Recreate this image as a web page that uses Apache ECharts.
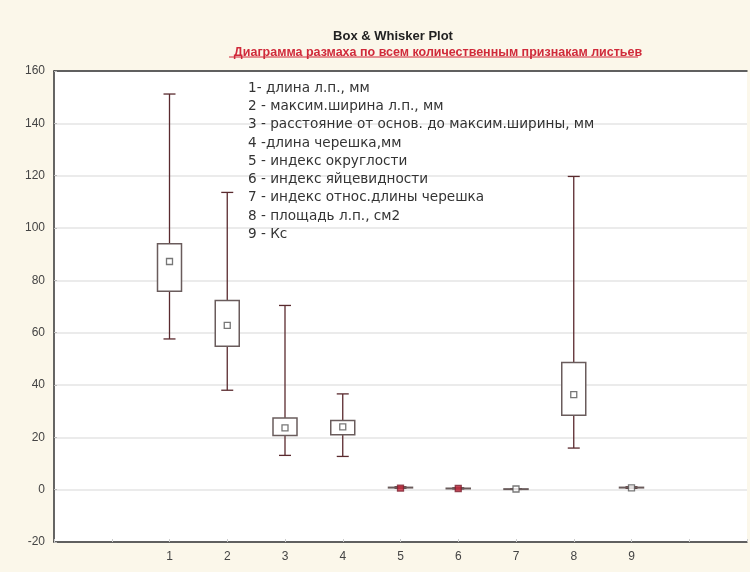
<!DOCTYPE html>
<html>
<head>
<meta charset="utf-8">
<script src="https://cdn.jsdelivr.net/npm/echarts@6/dist/echarts.min.js"></script>
<style>
  html, body { margin: 0; padding: 0; background: #fbf7ea; }
  #chart { width: 750px; height: 572px; }
</style>
</head>
<body>
<div id="chart"></div>
<script>
// box & whisker values
const cats = [1, 2, 3, 4, 5, 6, 7, 8, 9];
const lows = [57.6, 38, 13.1, 12.7, 0.55, 0.3, 0.1, 15.9, 0.5];
const q1s = [75.8, 54.8, 20.7, 21, 0.7, 0.42, 0.2, 28.4, 0.7];
const mids = [87.2, 62.8, 23.6, 24, 0.6, 0.45, 0.25, 36.3, 0.7];
const q3s = [94, 72.3, 27.4, 26.4, 0.9, 0.55, 0.3, 48.6, 0.9];
const highs = [151.2, 113.6, 70.4, 36.6, 1.1, 0.7, 0.4, 119.7, 1.1];
const markerRed = [false, false, false, false, true, true, false, false, false];

const notes = [
    '1- длина л.п., мм',
    '2 - максим.ширина л.п., мм',
    '3 - расстояние от основ. до максим.ширины, мм',
    '4 -длина черешка,мм',
    '5 - индекс округлости',
    '6 - индекс яйцевидности',
    '7 - индекс относ.длины черешка',
    '8 - площадь л.п., см2',
    '9 - Кс'
];

const boxData = cats.map((c, i) => [c, lows[i], q1s[i], mids[i], q3s[i], highs[i]]);
const meanData = cats.map((c, i) => ({
    value: [c, mids[i]],
    itemStyle: markerRed[i]
        ? { color: '#c8283c', borderColor: '#7a2030' }
        : { color: '#fff', borderColor: '#555' }
}));

const renderBox = (params, api) => {
    const x = api.value(0);
    const lo = api.coord([x, api.value(1)]);
    const q1 = api.coord([x, api.value(2)]);
    const q3 = api.coord([x, api.value(4)]);
    const hi = api.coord([x, api.value(5)]);
    const cx = lo[0];
    const bw = 12, cw = 6;
    const whisker = { stroke: '#5a2a2e', lineWidth: 1.3 };
    const boxStyle = { stroke: '#6a5c5c', lineWidth: 1.5, fill: '#fff' };
    return {
        type: 'group',
        children: [
            { type: 'line', shape: { x1: cx, y1: hi[1], x2: cx, y2: q3[1] }, style: whisker },
            { type: 'line', shape: { x1: cx, y1: q1[1], x2: cx, y2: lo[1] }, style: whisker },
            { type: 'line', shape: { x1: cx - cw, y1: hi[1], x2: cx + cw, y2: hi[1] }, style: whisker },
            { type: 'line', shape: { x1: cx - cw, y1: lo[1], x2: cx + cw, y2: lo[1] }, style: whisker },
            {
                type: 'rect',
                shape: { x: cx - bw, y: q3[1], width: bw * 2, height: Math.max(q1[1] - q3[1], 0.5) },
                style: boxStyle
            }
        ]
    };
};

const frameLine = { show: true, onZero: false, lineStyle: { color: '#333', width: 1.5 } };

const chart = echarts.init(document.getElementById('chart'));
chart.setOption({
    backgroundColor: '#fbf7ea',
    animation: false,
    title: [
        {
            text: 'Box & Whisker Plot',
            left: 388, top: 25, textAlign: 'center',
            textStyle: { fontFamily: 'Arial', fontSize: 13, fontWeight: 'bold', color: '#222' }
        },
        {
            text: 'Диаграмма размаха по всем количественным признакам листьев',
            left: 433, top: 41, textAlign: 'center',
            textStyle: { fontFamily: 'Arial', fontSize: 12.5, fontWeight: 'bold', color: '#d02a3a' }
        }
    ],
    graphic: [
        {
            type: 'line', shape: { x1: 229, y1: 57, x2: 638, y2: 57 },
            style: { stroke: '#d02a3a', lineWidth: 1 }
        },
        {
            type: 'text', left: 248, top: 79, z: 10,
            style: {
                text: notes.join('\n'),
                font: '13.6px "DejaVu Sans"', fill: '#333', lineHeight: 18.3
            }
        }
    ],
    grid: {
        left: 54, top: 71, right: -4, bottom: 30,
        show: true, backgroundColor: '#fff', borderWidth: 0
    },
    xAxis: [
        {
            type: 'value', min: -1, max: 11, interval: 1,
            axisLine: frameLine,
            axisTick: { inside: true, length: 3, lineStyle: { color: '#ccc' } },
            splitLine: { show: false },
            axisLabel: {
                color: '#444', fontFamily: 'Arial', fontSize: 12, margin: 9,
                formatter: (v) => (cats.indexOf(v) >= 0 ? String(v) : '')
            }
        },
        {
            type: 'value', position: 'top', min: -1, max: 11, interval: 1,
            axisLine: frameLine,
            axisTick: { show: false },
            axisLabel: { show: false },
            splitLine: { show: false }
        }
    ],
    yAxis: {
        type: 'value', min: -20, max: 160, interval: 20,
        axisLine: frameLine,
        axisTick: { inside: true, length: 3, lineStyle: { color: '#bbb' } },
        splitLine: { lineStyle: { color: '#e4e4e4', width: 1.5 } },
        axisLabel: { color: '#444', fontFamily: 'Arial', fontSize: 12, margin: 9 }
    },
    series: [
        {
            type: 'custom',
            renderItem: renderBox,
            data: boxData,
            encode: { x: 0, y: [1, 2, 3, 4, 5] }
        },
        {
            type: 'scatter',
            symbol: 'rect',
            symbolSize: 6,
            data: meanData,
            itemStyle: { borderWidth: 1.3 },
            z: 5
        }
    ]
});
</script>
</body>
</html>
